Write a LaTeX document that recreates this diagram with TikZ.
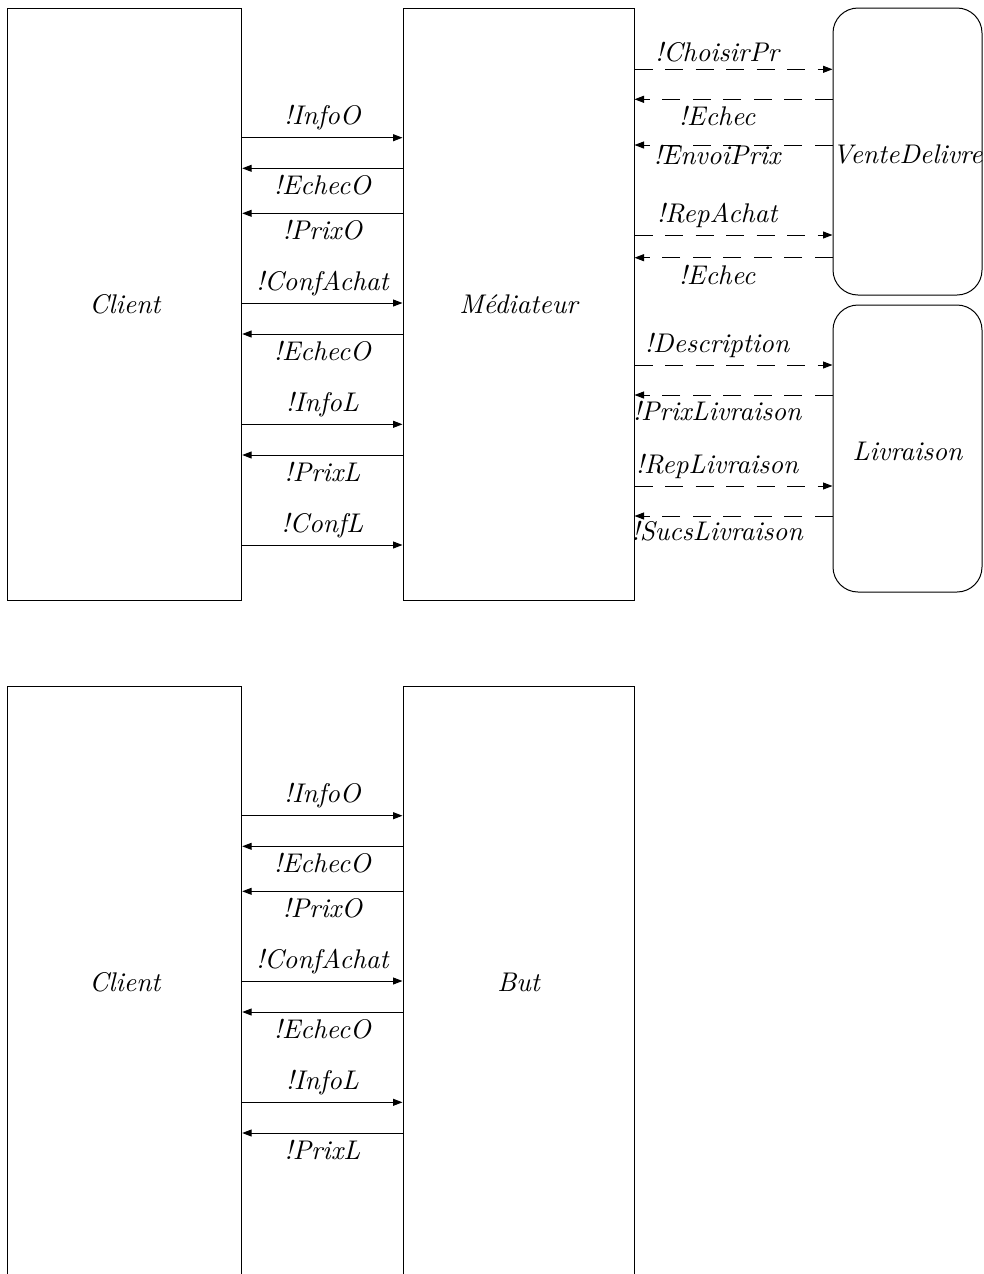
\documentclass[tikz,border=0pt]{standalone}
\usetikzlibrary{arrows.meta}
\begin{document}
\begin{tikzpicture}[x=0.4pt,y=-0.4pt,
  every node/.style={font=\fontsize{10.8pt}{13pt}\selectfont\itshape},
  box/.style={draw, line width=0.4pt, inner sep=0pt},
  rbox/.style={box, rounded corners=10pt},
  msg/.style={line width=0.4pt, -{Triangle[length=3.8pt,width=2.8pt]}},
  dmsg/.style={msg, dash pattern=on 7.2pt off 5pt},
  lab/.style={anchor=base, inner sep=0pt},
  up/.style={lab, yshift=5.1pt},
  dn/.style={lab, yshift=-10.6pt},
  txt/.style={inner sep=0pt},
]
\useasboundingbox (0,0) rectangle (984,1274);
\clip (0,0) rectangle (984,1274);

% ---------- top diagram ----------
\node[box, minimum width=93.5pt, minimum height=236.8pt] (c1) at (124.85,304) {};
\node[txt] (c1t) at (c1) {Client};
\node[box, minimum width=92.4pt, minimum height=236.8pt] (m1) at (518.5,304) {};
\node[txt] (m1t) at (m1) {Médiateur};
\node[rbox, minimum width=59.6pt, minimum height=114.8pt] (vd) at (907.5,151.5) {};
\node[txt] (vdt) at ([yshift=-1pt]vd.center) {VenteDelivre};
\node[rbox, minimum width=59.6pt, minimum height=114.8pt] (lv) at (907.5,448.5) {};
\node[txt] (lvt) at ([yshift=-1pt]lv.center) {Livraison};

\draw[msg] (c1.east |- 0,137.7) -- node[up] (a1) {!InfoO} (m1.west |- 0,137.7);
\draw[msg] (m1.west |- 0,168.3) -- node[dn] (a2) {!EchecO} (c1.east |- 0,168.3);
\draw[msg] (m1.west |- 0,213.3) -- node[dn] (a3) {!PrixO} (c1.east |- 0,213.3);
\draw[msg] (c1.east |- 0,303) -- node[up] (a4) {!ConfAchat} (m1.west |- 0,303);
\draw[msg] (m1.west |- 0,334) -- node[dn] (a5) {!EchecO} (c1.east |- 0,334);
\draw[msg] (c1.east |- 0,424.3) -- node[up] (a6) {!InfoL} (m1.west |- 0,424.3);
\draw[msg] (m1.west |- 0,455) -- node[dn] (a7) {!PrixL} (c1.east |- 0,455);
\draw[msg] (c1.east |- 0,545) -- node[up] (a8) {!ConfL} (m1.west |- 0,545);

\draw[dmsg] (m1.east |- 0,69.3) -- node[lab, pos=0.417, yshift=3pt] (b1) {!ChoisirPr} (vd.west |- 0,69.3);
\draw[dmsg] (vd.west |- 0,99.3) -- node[dn, pos=0.583] (b2) {!Echec} (m1.east |- 0,99.3);
\draw[dmsg] (vd.west |- 0,145) -- node[lab, pos=0.583, yshift=-7.8pt] (b3) {!EnvoiPrix} (m1.east |- 0,145);
\draw[dmsg] (m1.east |- 0,235) -- node[up, pos=0.417] (b4) {!RepAchat} (vd.west |- 0,235);
\draw[dmsg] (vd.west |- 0,257.7) -- node[dn, pos=0.583] (b5) {!Echec} (m1.east |- 0,257.7);
\draw[dmsg] (m1.east |- 0,365) -- node[up, pos=0.417] (b6) {!Description} (lv.west |- 0,365);
\draw[dmsg] (lv.west |- 0,395) -- node[lab, pos=0.583, yshift=-10pt] (b7) {!PrixLivraison} (m1.east |- 0,395);
\draw[dmsg] (m1.east |- 0,486) -- node[up, pos=0.417] (b8) {!RepLivraison} (lv.west |- 0,486);
\draw[dmsg] (lv.west |- 0,516) -- node[lab, pos=0.583, yshift=-9.9pt] (b9) {!SucsLivraison} (m1.east |- 0,516);

% ---------- bottom diagram ----------
\node[box, minimum width=93.5pt, minimum height=236.8pt] (c2) at (124.85,982) {};
\node[txt] (c2t) at (c2) {Client};
\node[box, minimum width=92.4pt, minimum height=236.8pt] (bt) at (518.5,982) {};
\node[txt] (btt) at (bt) {But};

\draw[msg] (c2.east |- 0,815.7) -- node[up] (d1) {!InfoO} (bt.west |- 0,815.7);
\draw[msg] (bt.west |- 0,846.3) -- node[dn] (d2) {!EchecO} (c2.east |- 0,846.3);
\draw[msg] (bt.west |- 0,891.3) -- node[dn] (d3) {!PrixO} (c2.east |- 0,891.3);
\draw[msg] (c2.east |- 0,981) -- node[up] (d4) {!ConfAchat} (bt.west |- 0,981);
\draw[msg] (bt.west |- 0,1012) -- node[dn] (d5) {!EchecO} (c2.east |- 0,1012);
\draw[msg] (c2.east |- 0,1102.3) -- node[up] (d6) {!InfoL} (bt.west |- 0,1102.3);
\draw[msg] (bt.west |- 0,1133) -- node[dn] (d7) {!PrixL} (c2.east |- 0,1133);
\end{tikzpicture}
\end{document}
